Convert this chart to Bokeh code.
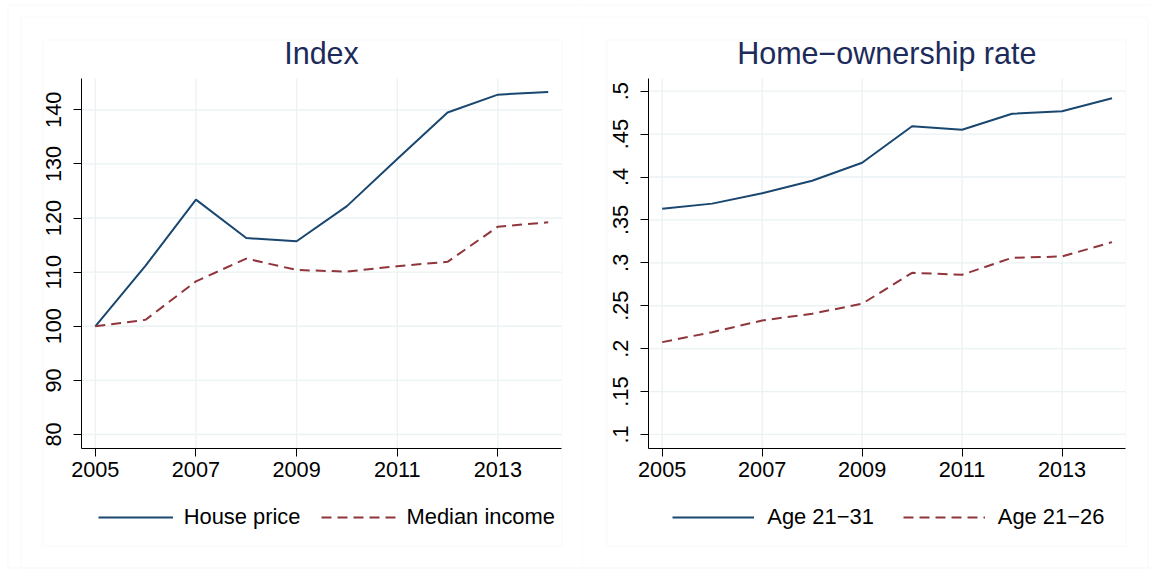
from bokeh.plotting import figure
from bokeh.models import FixedTicker, Range1d, Legend, LegendItem, BoxAnnotation, Label
from bokeh.layouts import row
from bokeh.embed import file_html
from bokeh.resources import INLINE

# ---------------- data ----------------
years = [2005, 2006, 2007, 2008, 2009, 2010, 2011, 2012, 2013, 2014]
house_price = [100.0, 111.2, 123.4, 116.3, 115.7, 122.2, 130.9, 139.5, 142.8, 143.3]
median_income = [100.0, 101.2, 108.3, 112.5, 110.4, 110.1, 111.1, 111.9, 118.4, 119.2]
age_21_31 = [0.363, 0.369, 0.381, 0.3956, 0.4166, 0.4592, 0.455, 0.4737, 0.4767, 0.4918]
age_21_26 = [0.2076, 0.2192, 0.2328, 0.2407, 0.2523, 0.2884, 0.2861, 0.3059, 0.3074, 0.3241]

x_ticks = [2005, 2007, 2009, 2011, 2013]
left_y_ticks = [80, 90, 100, 110, 120, 130, 140]
left_y_labels = ["80", "90", "100", "110", "120", "130", "140"]
right_y_ticks = [0.1, 0.15, 0.2, 0.25, 0.3, 0.35, 0.4, 0.45, 0.5]
right_y_labels = [".1", ".15", ".2", ".25", ".3", ".35", ".4", ".45", ".5"]

x_limits = (2004.72, 2014.27)
left_y_limits = (77.47, 145.78)
right_y_limits = (0.084, 0.5148)

left_title = "Index"
right_title = "Home\u2212ownership rate"
left_series_names = ["House price", "Median income"]
right_series_names = ["Age 21\u221231", "Age 21\u221226"]

# ---------------- style / layout ----------------
FONT = "Liberation Sans"
NAVY = "#1a476f"
MAROON = "#90353b"
GRID = "#eaf2f3"
BOXC = "#e4edef"
TITLE_C = "#1c2b5a"

H = 573
PLOT_TOP, PLOT_BOTTOM = 78, 447.7
TITLE_BASE = 52.8


def x_full(lo, hi, px_lo, px_hi, total):
    k = (px_hi - px_lo) / (hi - lo)
    return lo - px_lo / k, hi + (total - px_hi) / k


def y_full(lo, hi, top, bottom, total):
    k = (bottom - top) / (hi - lo)
    return lo - (total - bottom) / k, hi + top / k


def make_panel(width, plot_x, title, title_cx, y_limits, y_ticks, y_labels, s1, s2, names,
               glyph_w, lab_standoff, spacing, leg_x, boxes):
    xs, xe = x_full(x_limits[0], x_limits[1], plot_x[0], plot_x[1], width)
    ys, ye = y_full(y_limits[0], y_limits[1], PLOT_TOP, PLOT_BOTTOM, H)
    p = figure(width=width, height=H, title=None,
               x_range=Range1d(xs, xe), y_range=Range1d(ys, ye),
               output_backend="svg", toolbar_location=None,
               min_border_left=0, min_border_right=0,
               min_border_top=0, min_border_bottom=0)
    p.outline_line_color = None
    p.xgrid.visible = False
    p.ygrid.visible = False

    # region boxes (screen units: x from left, y up from bottom)
    for (x0, y0, x1, y1) in boxes:
        p.add_layout(BoxAnnotation(left=x0, right=x1, top=H - y0, bottom=H - y1,
                                   left_units="screen", right_units="screen",
                                   top_units="screen", bottom_units="screen",
                                   fill_alpha=0, line_color=BOXC, line_width=1,
                                   level="underlay"))

    # grid lines at tick positions, bounded to the plot region
    p.segment(x0=x_ticks, x1=x_ticks,
              y0=[y_limits[0]] * len(x_ticks), y1=[y_limits[1]] * len(x_ticks),
              line_color=GRID, line_width=1.3)
    p.segment(x0=[x_limits[0]] * len(y_ticks), x1=[x_limits[1]] * len(y_ticks),
              y0=y_ticks, y1=y_ticks, line_color=GRID, line_width=1.3)

    # axes at the plot-region edges
    p.xaxis.fixed_location = y_limits[0]
    p.xaxis.bounds = x_limits
    p.yaxis.fixed_location = x_limits[0]
    p.yaxis.bounds = y_limits
    p.xaxis.ticker = FixedTicker(ticks=x_ticks)
    p.yaxis.ticker = FixedTicker(ticks=y_ticks)
    p.yaxis.major_label_overrides = {t: l for t, l in zip(y_ticks, y_labels)}
    p.yaxis.major_label_orientation = "vertical"
    for ax in (p.xaxis, p.yaxis):
        ax.axis_line_color = "black"
        ax.axis_line_width = 1
        ax.major_tick_line_color = "black"
        ax.major_tick_out = 8
        ax.major_tick_in = 0
        ax.minor_tick_out = 0
        ax.minor_tick_in = 0
        ax.major_label_text_font = FONT
        ax.major_label_text_font_size = "21.7px"
        ax.major_label_text_color = "black"
    p.xaxis.major_label_standoff = 6
    p.yaxis.major_label_standoff = 12

    r1 = p.line(years, s1, line_color=NAVY, line_width=2)
    r2 = p.line(years, s2, line_color=MAROON, line_width=2, line_dash="10 6")

    legend = Legend(items=[LegendItem(label=names[0], renderers=[r1]),
                           LegendItem(label=names[1], renderers=[r2])],
                    orientation="horizontal", location=(leg_x, H - 506 - 24),
                    glyph_width=glyph_w, glyph_height=24, label_height=24,
                    label_standoff=lab_standoff, spacing=spacing,
                    padding=0, margin=0,
                    border_line_color=None, background_fill_alpha=0,
                    label_text_font=FONT, label_text_font_size="21.9px",
                    label_text_color="black")
    p.add_layout(legend)

    p.add_layout(Label(x=title_cx, y=H - TITLE_BASE, x_units="screen", y_units="screen",
                       text=title, text_align="center", text_baseline="alphabetic",
                       text_font=FONT, text_font_size="30.5px", text_color=TITLE_C))
    return p


p1 = make_panel(583, (80.7, 561.3), left_title, 321, left_y_limits, left_y_ticks, left_y_labels,
                house_price, median_income, left_series_names,
                glyph_w=75, lab_standoff=11, spacing=20, leg_x=97.7,
                boxes=[(7.5, 4.5, 800, 567.5), (20.5, 16.5, 582.5, 567.5), (42.5, 39.5, 561.5, 545.5)])
p2 = make_panel(567, (64.7, 542), right_title, 303.3, right_y_limits, right_y_ticks, right_y_labels,
                age_21_31, age_21_26, right_series_names,
                glyph_w=82, lab_standoff=13, spacing=29, leg_x=89.3,
                boxes=[(-50, 4.5, 800, 567.5), (-5, 16.5, 564.5, 567.5), (23.5, 39.5, 542.5, 545.5)])

layout = row(p1, p2)
open("out.html", "w").write(file_html(layout, INLINE))
